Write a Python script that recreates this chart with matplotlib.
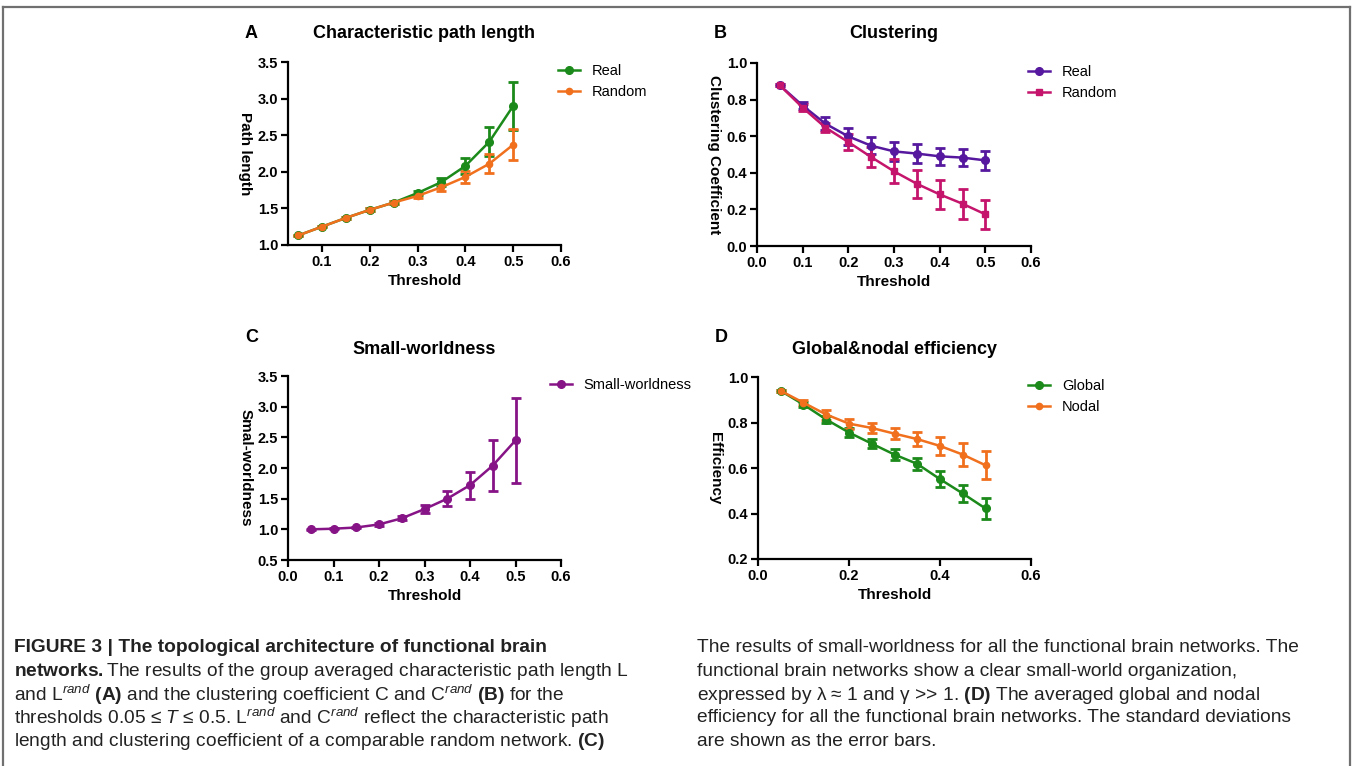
import numpy as np
import matplotlib
matplotlib.use("Agg")
import matplotlib.pyplot as plt
from matplotlib.lines import Line2D

# Datos
threshold = [0.05, 0.10, 0.15, 0.20, 0.25, 0.30, 0.35, 0.40, 0.45, 0.50]

path_real = [1.13, 1.25, 1.37, 1.48, 1.58, 1.71, 1.86, 2.08, 2.41, 2.90]
path_real_sd = [0.01, 0.01, 0.01, 0.02, 0.02, 0.03, 0.055, 0.11, 0.20, 0.33]
path_rand = [1.13, 1.25, 1.37, 1.48, 1.58, 1.67, 1.79, 1.93, 2.11, 2.37]
path_rand_sd = [0.01, 0.01, 0.01, 0.02, 0.02, 0.03, 0.05, 0.085, 0.13, 0.21]

clus_real = [0.878, 0.767, 0.668, 0.599, 0.548, 0.517, 0.505, 0.490, 0.483, 0.468]
clus_real_sd = [0.005, 0.02, 0.036, 0.045, 0.045, 0.053, 0.05, 0.045, 0.045, 0.05]
clus_rand = [0.878, 0.756, 0.647, 0.568, 0.486, 0.408, 0.340, 0.282, 0.231, 0.173]
clus_rand_sd = [0.005, 0.02, 0.025, 0.045, 0.055, 0.066, 0.075, 0.08, 0.083, 0.079]

sw = [1.00, 1.01, 1.03, 1.08, 1.18, 1.33, 1.50, 1.72, 2.04, 2.45]
sw_sd = [0.01, 0.01, 0.01, 0.02, 0.03, 0.06, 0.125, 0.22, 0.41, 0.69]

eff_global = [0.939, 0.879, 0.813, 0.756, 0.707, 0.659, 0.618, 0.551, 0.488, 0.422]
eff_global_sd = [0.005, 0.01, 0.015, 0.018, 0.02, 0.024, 0.028, 0.034, 0.039, 0.044]
eff_nodal = [0.939, 0.887, 0.835, 0.795, 0.776, 0.751, 0.727, 0.697, 0.659, 0.612]
eff_nodal_sd = [0.005, 0.012, 0.022, 0.022, 0.02, 0.025, 0.031, 0.038, 0.049, 0.062]

VERDE = '#1b8a1b'
NARANJA = '#f0701e'
VIOLETA = '#55189e'
MAGENTA = '#c4146c'
PURPURA = '#861486'

plt.rcParams['font.family'] = ['Liberation Sans', 'DejaVu Sans']
plt.rcParams['mathtext.fontset'] = 'custom'
plt.rcParams['mathtext.rm'] = 'Liberation Sans'
plt.rcParams['mathtext.it'] = 'Liberation Sans:italic'
plt.rcParams['mathtext.bf'] = 'Liberation Sans:bold'

W, H = 1353, 766
fig = plt.figure(figsize=(W / 100, H / 100), dpi=100)


def caja(l, t, r, b):
    # pixeles -> fraccion de figura
    return [l / W, 1 - b / H, (r - l) / W, (b - t) / H]


def panel(pos, letra, titulo, y_tit, ylabel, series, xlim, ylim, xticks, yticks, leg_x):
    ax = fig.add_axes(caja(*pos))
    lineas, nombres = [], []
    for y, sd, color, marker, ms, label in series:
        cont = ax.errorbar(threshold, y, yerr=sd, color=color, marker=marker, ms=ms,
                           lw=1.8, elinewidth=2, capsize=3.5, capthick=2)
        lineas.append(cont[0])
        nombres.append(label)
    ax.set_xlim(*xlim)
    ax.set_ylim(*ylim)
    ax.set_xticks(xticks)
    ax.set_yticks(yticks)
    ax.xaxis.set_major_formatter(plt.FormatStrFormatter('%.1f'))
    ax.yaxis.set_major_formatter(plt.FormatStrFormatter('%.1f'))
    for s in ['top', 'right']:
        ax.spines[s].set_visible(False)
    for s in ['left', 'bottom']:
        ax.spines[s].set_linewidth(1.6)
    ax.tick_params(direction='out', length=5, width=1.6, labelsize=10.5, pad=2)
    for t in ax.get_xticklabels() + ax.get_yticklabels():
        t.set_fontweight('bold')
    ax.set_xlabel('Threshold', fontsize=11, fontweight='bold', labelpad=4)
    ax.set_ylabel(ylabel, fontsize=11, fontweight='bold', rotation=-90,
                  labelpad=14)
    ax.legend(lineas, nombres, loc='upper left', bbox_to_anchor=(leg_x, 0.99),
              frameon=False, fontsize=10.5, borderaxespad=0, borderpad=0,
              handlelength=1.5, handletextpad=0.8, labelspacing=0.5)
    l, t, r, b = pos
    fig.text((l + r) / 2 / W, 1 - y_tit / H, titulo, ha='center', va='center',
             fontsize=13, fontweight='bold')
    fig.text((l - 43) / W, 1 - (y_tit if t < 200 else 337) / H, letra,
             ha='left', va='center', fontsize=13, fontweight='bold')
    return ax


panel((288, 62, 561, 245), 'A', 'Characteristic path length', 33, 'Path length',
      [(path_real, path_real_sd, VERDE, 'o', 5.5, 'Real'),
       (path_rand, path_rand_sd, NARANJA, 'o', 4.5, 'Random')],
      (0.029, 0.6), (1.0, 3.5), [0.1, 0.2, 0.3, 0.4, 0.5, 0.6],
      np.arange(1.0, 3.51, 0.5), 0.99)

panel((757, 63, 1031, 246), 'B', 'Clustering', 33, 'Clustering Coefficient',
      [(clus_real, clus_real_sd, VIOLETA, 'o', 5.5, 'Real'),
       (clus_rand, clus_rand_sd, MAGENTA, 's', 5, 'Random')],
      (0.0, 0.6), (0.0, 1.0), np.arange(0, 0.61, 0.1),
      np.arange(0, 1.01, 0.2), 0.99)

panel((288, 376, 561, 560), 'C', 'Small-worldness', 349, 'Smal-worldness',
      [(sw, sw_sd, PURPURA, 'o', 5.5, 'Small-worldness')],
      (0.0, 0.6), (0.5, 3.5), np.arange(0, 0.61, 0.1),
      np.arange(0.5, 3.51, 0.5), 0.96)

panel((758, 377, 1031, 559), 'D', 'Global&nodal efficiency', 349, 'Efficiency',
      [(eff_global, eff_global_sd, VERDE, 'o', 5.5, 'Global'),
       (eff_nodal, eff_nodal_sd, NARANJA, 'o', 4.5, 'Nodal')],
      (0.0, 0.6), (0.2, 1.0), [0.0, 0.2, 0.4, 0.6],
      np.arange(0.2, 1.01, 0.2), 0.99)

# marco gris
gris = '#707070'
fig.add_artist(Line2D([3 / W, 1350 / W], [1 - 7 / H, 1 - 7 / H], color=gris, lw=1.6))
fig.add_artist(Line2D([3 / W, 3 / W], [1 - 7 / H, 0], color=gris, lw=1.6))
fig.add_artist(Line2D([1350 / W, 1350 / W], [1 - 7 / H, 0], color=gris, lw=1.6))

# leyenda de la figura
fs = 13.8
col = '#222222'
izq = [
    r'and L$^{rand}$ $\mathbf{(A)}$ and the clustering coefficient C and C$^{rand}$ $\mathbf{(B)}$ for the',
    r'thresholds 0.05 ≤ $T$ ≤ 0.5. L$^{rand}$ and C$^{rand}$ reflect the characteristic path',
    r'length and clustering coefficient of a comparable random network. $\mathbf{(C)}$',
]
der = [
    'The results of small-worldness for all the functional brain networks. The',
    'functional brain networks show a clear small-world organization,',
    r'expressed by λ ≈ 1 and γ >> 1. $\mathbf{(D)}$ The averaged global and nodal',
    'efficiency for all the functional brain networks. The standard deviations',
    'are shown as the error bars.',
]
ys = [648, 672, 695, 718, 741]
fig.text(14 / W, 1 - ys[0] / H,
         'FIGURE 3 | The topological architecture of functional brain',
         ha='left', va='center', fontsize=fs, fontweight='bold', color=col)
fig.text(14 / W, 1 - ys[1] / H,
         r'$\mathbf{networks.}$The results of the group averaged characteristic path length L',
         ha='left', va='center', fontsize=fs, color=col)
for linea, y in zip(izq, ys[2:]):
    fig.text(14 / W, 1 - y / H, linea, ha='left', va='center', fontsize=fs, color=col)
for linea, y in zip(der, ys):
    fig.text(697 / W, 1 - y / H, linea, ha='left', va='center', fontsize=fs, color=col)

fig.savefig('out.png', dpi=100)
